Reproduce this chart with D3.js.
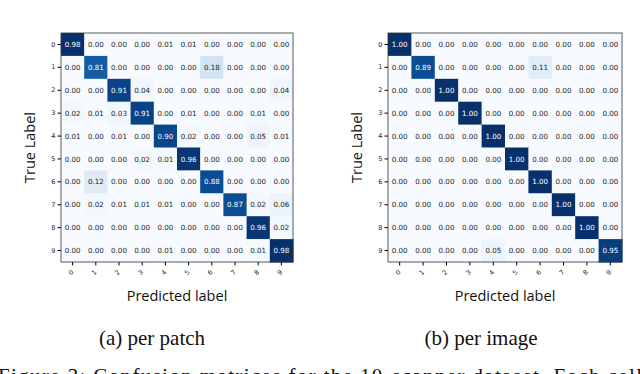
<html>
  <meta charset="utf-8">
  <head>
  <style>
    body { margin: 0; background: #fff; }
    svg text { fill: #111; }
  </style>
  </head>
  <body>
    <div id="chart"></div>

    <script src="https://d3js.org/d3.v7.min.js"></script>
    <script>
    'use strict';

    var labels = ['0', '1', '2', '3', '4', '5', '6', '7', '8', '9'];

    // (a) per patch
    var perPatch = [
      [0.98, 0.00, 0.00, 0.00, 0.01, 0.01, 0.00, 0.00, 0.00, 0.00],
      [0.00, 0.81, 0.00, 0.00, 0.00, 0.00, 0.18, 0.00, 0.00, 0.00],
      [0.00, 0.00, 0.91, 0.04, 0.00, 0.00, 0.00, 0.00, 0.00, 0.04],
      [0.02, 0.01, 0.03, 0.91, 0.00, 0.01, 0.00, 0.00, 0.01, 0.00],
      [0.01, 0.00, 0.01, 0.00, 0.90, 0.02, 0.00, 0.00, 0.05, 0.01],
      [0.00, 0.00, 0.00, 0.02, 0.01, 0.96, 0.00, 0.00, 0.00, 0.00],
      [0.00, 0.12, 0.00, 0.00, 0.00, 0.00, 0.88, 0.00, 0.00, 0.00],
      [0.00, 0.02, 0.01, 0.01, 0.01, 0.00, 0.00, 0.87, 0.02, 0.06],
      [0.00, 0.00, 0.00, 0.00, 0.00, 0.00, 0.00, 0.00, 0.96, 0.02],
      [0.00, 0.00, 0.00, 0.00, 0.01, 0.00, 0.00, 0.00, 0.01, 0.98]
    ];

    // (b) per image
    var perImage = [
      [1.00, 0.00, 0.00, 0.00, 0.00, 0.00, 0.00, 0.00, 0.00, 0.00],
      [0.00, 0.89, 0.00, 0.00, 0.00, 0.00, 0.11, 0.00, 0.00, 0.00],
      [0.00, 0.00, 1.00, 0.00, 0.00, 0.00, 0.00, 0.00, 0.00, 0.00],
      [0.00, 0.00, 0.00, 1.00, 0.00, 0.00, 0.00, 0.00, 0.00, 0.00],
      [0.00, 0.00, 0.00, 0.00, 1.00, 0.00, 0.00, 0.00, 0.00, 0.00],
      [0.00, 0.00, 0.00, 0.00, 0.00, 1.00, 0.00, 0.00, 0.00, 0.00],
      [0.00, 0.00, 0.00, 0.00, 0.00, 0.00, 1.00, 0.00, 0.00, 0.00],
      [0.00, 0.00, 0.00, 0.00, 0.00, 0.00, 0.00, 1.00, 0.00, 0.00],
      [0.00, 0.00, 0.00, 0.00, 0.00, 0.00, 0.00, 0.00, 1.00, 0.00],
      [0.00, 0.00, 0.00, 0.00, 0.05, 0.00, 0.00, 0.00, 0.00, 0.95]
    ];

    var captions = ['(a) per patch', '(b) per image'];
    var figCaption = 'Figure 3: Confusion matrices for the 10-scanner dataset. Each cell';

    var W = 640, H = 374;
    var svg = d3.select('#chart').append('svg')
      .attr('width', W).attr('height', H)
      .style('display', 'block');
    svg.append('rect').attr('width', W).attr('height', H).attr('fill', '#fff');

    var panels = [
      {data: perPatch, x0: 61, x1: 293, cap: captions[0], capX: 152},
      {data: perImage, x0: 388, x1: 622, cap: captions[1], capX: 481}
    ];
    var gridTop = 33, gridBottom = 262;

    panels.forEach(function(p) {
      var g = svg.append('g');
      var x = d3.scaleBand().domain(labels).range([p.x0, p.x1]);
      var y = d3.scaleBand().domain(labels).range([gridTop, gridBottom]);
      var vmax = d3.max(p.data, function(r) { return d3.max(r); });
      var color = d3.scaleSequential(d3.interpolateBlues).domain([0, vmax]);

      var cells = [];
      p.data.forEach(function(row, i) {
        row.forEach(function(v, j) { cells.push({r: labels[i], c: labels[j], v: v}); });
      });

      g.selectAll('rect.cell').data(cells).enter().append('rect')
        .attr('class', 'cell')
        .attr('x', function(d) { return x(d.c); })
        .attr('y', function(d) { return y(d.r); })
        .attr('width', x.bandwidth() + 0.5)
        .attr('height', y.bandwidth() + 0.5)
        .attr('fill', function(d) { return color(d.v); });

      g.selectAll('text.val').data(cells).enter().append('text')
        .attr('class', 'val')
        .attr('x', function(d) { return x(d.c) + x.bandwidth() / 2; })
        .attr('y', function(d) { return y(d.r) + y.bandwidth() / 2; })
        .attr('dy', '0.36em')
        .attr('text-anchor', 'middle')
        .style('font-family', 'DejaVu Sans')
        .style('font-size', '7.1px')
        .style('fill', function(d) { return d.v > vmax / 2 ? '#fff' : '#222'; })
        .text(function(d) { return d.v.toFixed(2); });

      // frame
      g.append('rect')
        .attr('x', p.x0).attr('y', gridTop)
        .attr('width', p.x1 - p.x0).attr('height', gridBottom - gridTop)
        .attr('fill', 'none').attr('stroke', '#333').attr('stroke-width', 0.8);

      var ya = g.append('g')
        .attr('transform', 'translate(' + p.x0 + ',0)')
        .call(d3.axisLeft(y).tickSize(3.5).tickPadding(2));
      ya.select('.domain').remove();
      ya.selectAll('text').style('font-family', 'DejaVu Sans').style('font-size', '6.5px').style('fill', '#222');

      var xa = g.append('g')
        .attr('transform', 'translate(0,' + gridBottom + ')')
        .call(d3.axisBottom(x).tickSize(3.5).tickPadding(2));
      xa.select('.domain').remove();
      xa.selectAll('text')
        .style('font-family', 'DejaVu Sans').style('font-size', '6.5px').style('fill', '#222')
        .attr('text-anchor', 'middle')
        .attr('y', 0).attr('dy', 0)
        .attr('transform', 'translate(0,12) rotate(-45)');

      var cx = (p.x0 + p.x1) / 2;
      g.append('text')
        .attr('x', cx).attr('y', 301)
        .attr('text-anchor', 'middle')
        .style('font-family', 'Open Sans').style('font-size', '14.5px')
        .text('Predicted label');

      g.append('text')
        .attr('transform', 'translate(' + (p.x0 - 26) + ',' + ((gridTop + gridBottom) / 2) + ') rotate(-90)')
        .attr('text-anchor', 'middle')
        .style('font-family', 'Open Sans').style('font-size', '14.5px')
        .text('True Label');

      g.append('text')
        .attr('x', p.capX).attr('y', 345)
        .attr('text-anchor', 'middle')
        .style('font-family', 'Liberation Serif').style('font-size', '21px')
        .text(p.cap);
    });

    // figure caption runs off the bottom edge as in the source page
    svg.append('text')
      .attr('x', -2).attr('y', 383)
      .attr('textLength', 644).attr('lengthAdjust', 'spacing')
      .style('font-family', 'Liberation Serif').style('font-size', '21px')
      .text(figCaption);
    </script>
  </body>
</html>
